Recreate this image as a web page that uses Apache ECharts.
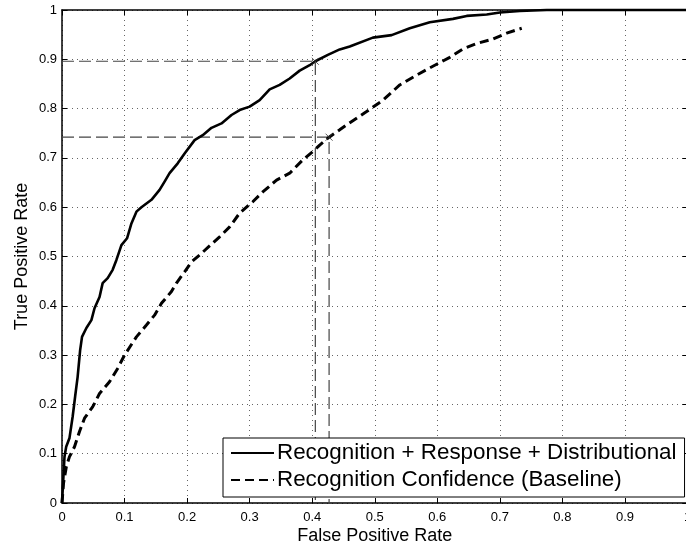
<!DOCTYPE html>
<html>
<head>
<meta charset="utf-8">
<script src="https://cdn.jsdelivr.net/npm/echarts@6/dist/echarts.min.js"></script>
<style>
html,body{margin:0;padding:0;background:#fff;}
#chart{width:686px;height:548px;}
</style>
</head>
<body>
<div id="chart"></div>
<script>
// ROC curve: Recognition + Response + Distributional  [FPR, TPR]
var fusionCurve = [
  [0,0],[0.004,0.094],[0.0067,0.114],[0.012,0.132],[0.017,0.175],[0.021,0.216],[0.025,0.256],
  [0.029,0.31],[0.032,0.337],[0.039,0.355],[0.047,0.371],[0.052,0.395],[0.06,0.418],[0.065,0.446],
  [0.073,0.456],[0.081,0.473],[0.087,0.493],[0.095,0.523],[0.104,0.537],[0.111,0.567],[0.119,0.591],
  [0.127,0.600],[0.143,0.615],[0.156,0.635],[0.164,0.652],[0.172,0.669],[0.185,0.689],[0.196,0.709],
  [0.212,0.736],[0.225,0.746],[0.239,0.761],[0.255,0.770],[0.271,0.787],[0.284,0.797],[0.3,0.804],
  [0.316,0.817],[0.332,0.839],[0.348,0.848],[0.364,0.861],[0.38,0.877],[0.396,0.888],[0.405,0.896],
  [0.425,0.909],[0.444,0.920],[0.46,0.926],[0.497,0.944],[0.527,0.949],[0.556,0.963],[0.588,0.975],
  [0.625,0.982],[0.647,0.988],[0.679,0.991],[0.7,0.995],[0.732,0.998],[0.775,1.0],[1.0,1.0]
];
// ROC curve: Recognition Confidence (Baseline)  [FPR, TPR]
var baselineCurve = [
  [0,0],[0.0024,0.04],[0.007,0.074],[0.012,0.094],[0.02,0.114],[0.028,0.145],[0.036,0.172],
  [0.049,0.195],[0.06,0.222],[0.076,0.246],[0.089,0.273],[0.1,0.300],[0.119,0.337],[0.135,0.361],
  [0.148,0.381],[0.159,0.405],[0.175,0.429],[0.183,0.446],[0.196,0.469],[0.207,0.489],[0.22,0.503],
  [0.252,0.540],[0.268,0.560],[0.284,0.588],[0.305,0.611],[0.321,0.631],[0.343,0.655],[0.364,0.669],
  [0.385,0.696],[0.401,0.713],[0.412,0.726],[0.427,0.742],[0.444,0.757],[0.455,0.767],[0.487,0.794],
  [0.513,0.817],[0.54,0.848],[0.567,0.868],[0.599,0.890],[0.62,0.904],[0.641,0.921],[0.663,0.932],
  [0.689,0.941],[0.711,0.953],[0.735,0.963]
];
// operating points (crosshairs)
var opFpr = [0.405, 0.427];
var opTpr = [0.896, 0.742];

var seriesNames = ['Recognition + Response + Distributional', 'Recognition Confidence (Baseline)'];

var FONT = '"Liberation Sans", Arial, Helvetica, sans-serif';
var chart = echarts.init(document.getElementById('chart'), null, {renderer:'canvas'});

function fmt(v){ return (Math.round(v*10)/10).toString(); }

var crossSeries = [];
for (var i = 0; i < opFpr.length; i++) {
  crossSeries.push({
    type:'line', silent:true, symbol:'none', animation:false, z:2,
    data:[[0, opTpr[i]], [opFpr[i], opTpr[i]], [opFpr[i], 0]],
    lineStyle:{color:'#444', width:1.2, type:[12,5]}
  });
}
crossSeries.push({
  type:'scatter', silent:true, animation:false, z:6,
  symbol:'path://M0,0L10,10M10,0L0,10', symbolSize:7,
  data: opFpr.map(function(f, i){ return [f, opTpr[i]]; }),
  itemStyle:{color:'none', borderColor:'#333', borderWidth:1}
});

var axisCommon = {
  type:'value', min:0, max:1, interval:0.1,
  axisLine:{show:true, onZero:false, lineStyle:{color:'#000', width:1.5}},
  axisTick:{show:true, inside:true, length:5, lineStyle:{color:'#000', width:1}},
};

chart.setOption({
  animation:false,
  backgroundColor:'#fff',
  grid:{left:62, top:10, width:625.5, height:493, containLabel:false, outerBoundsMode:'none'},
  legend:{
    orient:'vertical', left:223, top:438,
    data:seriesNames,
    backgroundColor:'#fff', borderColor:'#000', borderWidth:1, borderRadius:0,
    padding:[3,8,5,7], itemGap:3, itemWidth:43, itemHeight:14,
    itemStyle:{opacity:0},
    textStyle:{fontFamily:FONT, fontSize:22.4, color:'#000', lineHeight:24, padding:[0,0,0,-2]},
    selectedMode:false
  },
  xAxis:[
    Object.assign({}, axisCommon, {
      position:'bottom',
      name:'False Positive Rate', nameLocation:'middle', nameGap:24, nameMoveOverlap:false,
      nameTextStyle:{fontFamily:FONT, fontSize:18, color:'#000'},
      axisLabel:{fontFamily:FONT, fontSize:13, color:'#000', margin:8, formatter:fmt},
      splitLine:{show:true, lineStyle:{color:'#666', width:1, type:[1,4]}}
    }),
    Object.assign({}, axisCommon, {
      position:'top', axisLabel:{show:false}, splitLine:{show:false}
    })
  ],
  yAxis:[
    Object.assign({}, axisCommon, {
      position:'left',
      name:'True Positive Rate', nameLocation:'middle', nameGap:31, nameMoveOverlap:false,
      nameTextStyle:{fontFamily:FONT, fontSize:18, color:'#000'},
      axisLabel:{fontFamily:FONT, fontSize:13, color:'#000', margin:5, formatter:fmt},
      splitLine:{show:true, lineStyle:{color:'#666', width:1, type:[1,4]}}
    }),
    Object.assign({}, axisCommon, {
      position:'right', axisLabel:{show:false}, splitLine:{show:false}
    })
  ],
  series:[
    {
      name:seriesNames[0], type:'line', symbol:'none', z:5, clip:false,
      data:fusionCurve,
      lineStyle:{color:'#000', width:2.6, type:'solid'},
      itemStyle:{color:'#000'}
    },
    {
      name:seriesNames[1], type:'line', symbol:'none', z:5,
      data:baselineCurve,
      lineStyle:{color:'#000', width:3, type:[9,5]},
      itemStyle:{color:'#000'}
    }
  ].concat(crossSeries)
});
</script>
</body>
</html>
